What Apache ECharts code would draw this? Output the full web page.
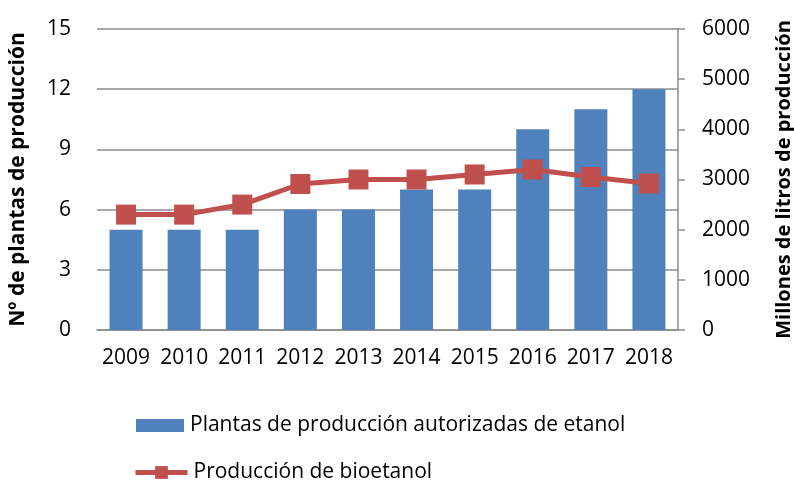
<!DOCTYPE html>
<html lang="es">
<head>
    <meta charset="UTF-8">
    <title>Plantas y producción de bioetanol</title>
    <script src="https://cdn.jsdelivr.net/npm/echarts@6/dist/echarts.min.js"></script>
    <style>
        body { margin: 0; background: #fff; }
        #main { width: 794px; height: 480px; }
    </style>
</head>
<body>
    <div id="main"></div>
    <script type="text/javascript">
        // datos
        var years = ['2009', '2010', '2011', '2012', '2013', '2014', '2015', '2016', '2017', '2018'];
        var plantas = [5, 5, 5, 6, 6, 7, 7, 10, 11, 12];
        var produccion = [2300, 2300, 2500, 2910, 3000, 3000, 3100, 3200, 3050, 2920];
        var leftTicks = [0, 3, 6, 9, 12, 15];
        var rightTicks = [0, 1000, 2000, 3000, 4000, 5000, 6000];

        var barName = 'Plantas de producción autorizadas de etanol';
        var lineName = 'Producción de bioetanol';
        var fontFam = '"Open Sans", sans-serif';
        var legendText = { fontFamily: fontFam, fontSize: 21, color: '#000', padding: [0, 0, 0, 1] };

        var myChart = echarts.init(document.getElementById('main'));
        var option = {
            backgroundColor: '#fff',
            animation: false,
            grid: { left: 97, right: 116, top: 29, bottom: 150, outerBoundsMode: 'none' },
            legend: [
                {
                    left: 131, top: 410, itemWidth: 48, itemHeight: 13,
                    textStyle: legendText,
                    data: [{ name: barName, icon: 'rect' }]
                },
                {
                    left: 128, top: 457, itemWidth: 52, itemHeight: 16,
                    textStyle: legendText,
                    lineStyle: { width: 5, color: '#c0504d' },
                    data: [{ name: lineName }]
                }
            ],
            xAxis: {
                type: 'category',
                data: years,
                axisLine: { lineStyle: { color: '#8c8c8c', width: 1.5 } },
                axisTick: { show: false },
                axisLabel: { interval: 0, fontFamily: fontFam, fontSize: 21, color: '#000', margin: 18 }
            },
            yAxis: [
                {
                    type: 'value',
                    min: leftTicks[0],
                    max: leftTicks[leftTicks.length - 1],
                    interval: 3,
                    name: 'Nº de plantas de producción',
                    nameLocation: 'middle',
                    nameGap: 68,
                    nameTextStyle: { fontFamily: fontFam, fontSize: 21, fontWeight: 'bold', color: '#000' },
                    axisLine: { show: false },
                    axisTick: { show: false },
                    axisLabel: { fontFamily: fontFam, fontSize: 21, color: '#000', margin: 26 },
                    splitLine: { lineStyle: { color: '#8c8c8c', width: 1.5 } }
                },
                {
                    type: 'value',
                    min: rightTicks[0],
                    max: rightTicks[rightTicks.length - 1],
                    interval: 1000,
                    position: 'right',
                    name: 'Millones de litros de producción',
                    nameLocation: 'middle',
                    nameGap: 96,
                    nameTextStyle: { fontFamily: fontFam, fontSize: 20, fontWeight: 'bold', color: '#000' },
                    axisLine: { show: true, lineStyle: { color: '#8c8c8c', width: 1.5 } },
                    axisTick: { show: true, length: 7, lineStyle: { color: '#8c8c8c', width: 1.5 } },
                    axisLabel: {
                        fontFamily: fontFam, fontSize: 21, color: '#000', margin: 24,
                        formatter: function (v) { return String(v); }
                    },
                    splitLine: { show: false }
                }
            ],
            series: [
                {
                    name: barName,
                    type: 'bar',
                    yAxisIndex: 0,
                    barWidth: 33,
                    itemStyle: { color: '#4f81bd' },
                    data: plantas
                },
                {
                    name: lineName,
                    type: 'line',
                    yAxisIndex: 1,
                    symbol: 'rect',
                    symbolSize: 20,
                    lineStyle: { color: '#c0504d', width: 5 },
                    itemStyle: { color: '#c0504d' },
                    data: produccion
                }
            ]
        };
        myChart.setOption(option);
    </script>
</body>
</html>
